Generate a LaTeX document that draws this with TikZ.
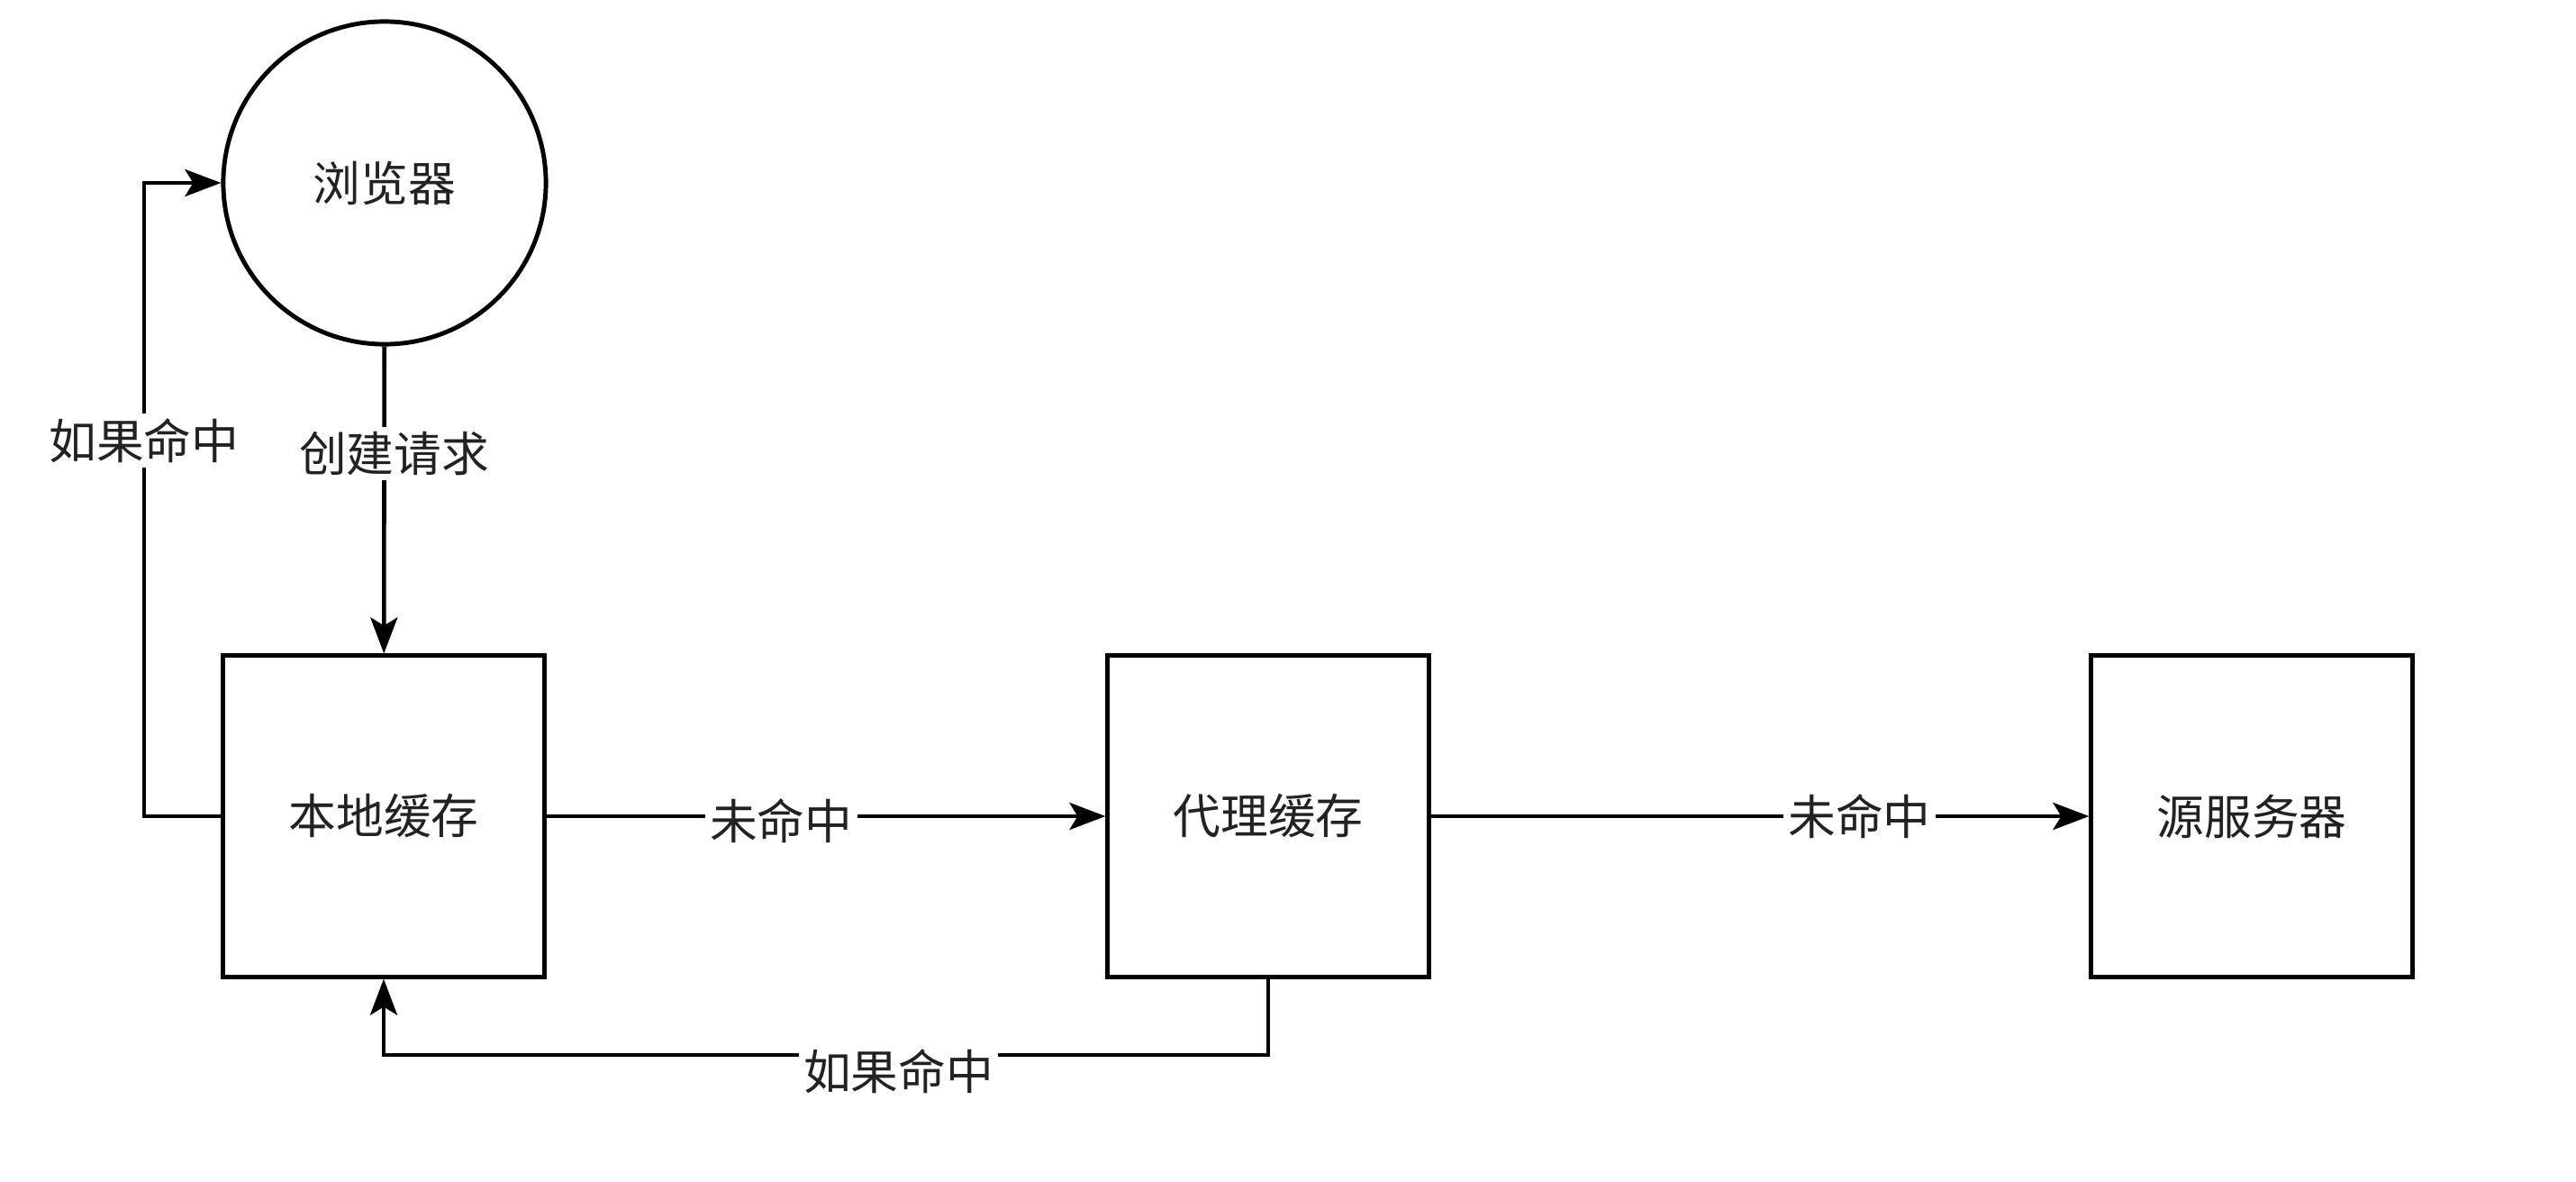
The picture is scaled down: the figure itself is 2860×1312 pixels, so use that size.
\documentclass[tikz,border=0pt]{standalone}
\usepackage{fontspec}
\setmainfont{Noto Sans CJK SC}
\usetikzlibrary{arrows.meta}
\definecolor{txt}{HTML}{222222}
\begin{document}
\begin{tikzpicture}[x=0.01cm,y=-0.01cm,
  every node/.style={font=\fontsize{15}{18}\selectfont, text=txt},
  box/.style={draw, line width=1.4pt, minimum width=3.56cm, minimum height=3.56cm, inner sep=0pt},
  conn/.style={line width=1.3pt, -{Stealth[length=0.4cm,width=0.3cm,inset=0.09cm]}},
  lbl/.style={fill=white, inner sep=1.5pt}]
\fill[white] (0,0) rectangle (2860,1312);
\useasboundingbox (0,0) rectangle (2860,1312);
\node[circle, draw, line width=1.4pt, minimum size=3.58cm, inner sep=0pt] (browser) at (427,203) {浏览器};
\node[box] (local) at (426,906) {本地缓存};
\node[box] (proxy) at (1408,906) {代理缓存};
\node[box] (origin) at (2500,906) {源服务器};
\coordinate (lc) at (160,906);
\coordinate (lt) at (160,203);
\coordinate (pb) at (1408,1171);
\coordinate (lb) at (426,1171);
\draw[conn] (browser) -- node[lbl, pos=0.35, xshift=0.11cm] {创建请求} (local);
\draw[conn] (local.west) -- (lc) -- node[lbl, pos=0.593] {如果命中} (lt) -- (browser.west);
\draw[conn] (local.east) -- node[lbl, pos=0.42, yshift=-0.05cm] {未命中} (proxy.west);
\draw[conn] (proxy.east) -- node[lbl, pos=0.651] {未命中} (origin.west);
\draw[conn] (proxy.south) -- (pb) -- node[lbl, pos=0.418, yshift=-0.18cm] {如果命中} (lb) -- (local.south);
\end{tikzpicture}
\end{document}
